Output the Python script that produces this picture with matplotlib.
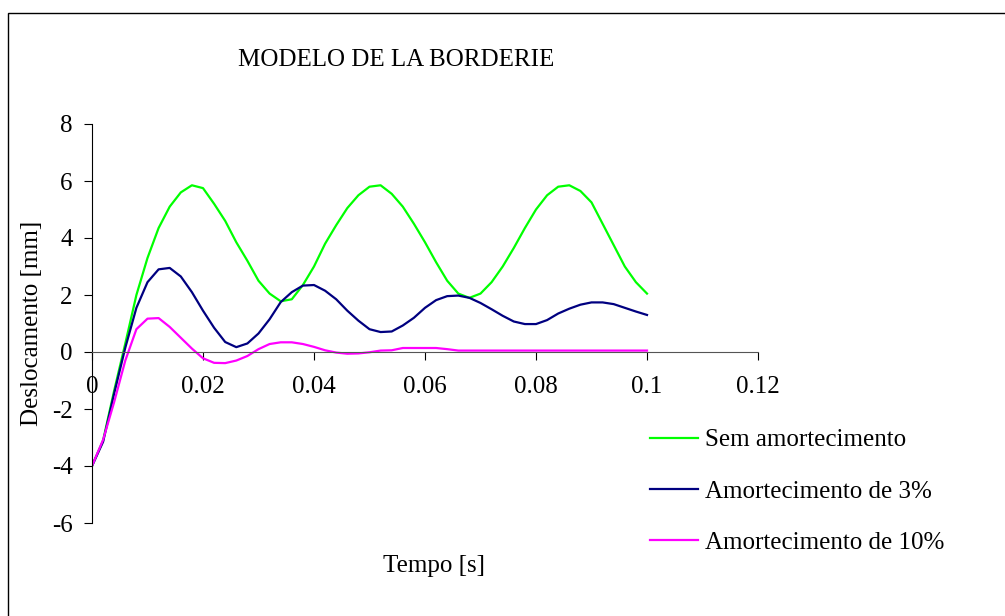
import numpy as np
import matplotlib.pyplot as plt
from matplotlib.patches import Rectangle

# time [s]
tempo = [0.000, 0.002, 0.004, 0.006, 0.008, 0.010, 0.012, 0.014, 0.016, 0.018,
         0.020, 0.022, 0.024, 0.026, 0.028, 0.030, 0.032, 0.034, 0.036, 0.038,
         0.040, 0.042, 0.044, 0.046, 0.048, 0.050, 0.052, 0.054, 0.056, 0.058,
         0.060, 0.062, 0.064, 0.066, 0.068, 0.070, 0.072, 0.074, 0.076, 0.078,
         0.080, 0.082, 0.084, 0.086, 0.088, 0.090, 0.092, 0.094, 0.096, 0.098,
         0.100]

# displacement [mm]
sem_amort = [-4.0, -3.1, -1.35, 0.3, 2.0, 3.3, 4.35, 5.1, 5.6, 5.85,
             5.75, 5.2, 4.6, 3.85, 3.2, 2.5, 2.05, 1.78, 1.85, 2.35,
             3.0, 3.8, 4.45, 5.05, 5.5, 5.8, 5.85, 5.55, 5.1, 4.5,
             3.85, 3.15, 2.5, 2.05, 1.9, 2.05, 2.45, 3.0, 3.65, 4.35,
             5.0, 5.5, 5.8, 5.85, 5.65, 5.25, 4.5, 3.75, 3.0, 2.45,
             2.05]
amort_3 = [-4.0, -3.15, -1.45, 0.15, 1.55, 2.45, 2.9, 2.95, 2.65, 2.1,
           1.45, 0.85, 0.35, 0.17, 0.3, 0.65, 1.15, 1.75, 2.1, 2.33,
           2.35, 2.15, 1.85, 1.45, 1.1, 0.8, 0.7, 0.72, 0.93, 1.2,
           1.55, 1.82, 1.96, 1.98, 1.9, 1.72, 1.5, 1.27, 1.07, 0.98,
           0.98, 1.12, 1.35, 1.52, 1.66, 1.74, 1.74, 1.68, 1.55, 1.42,
           1.3]
amort_10 = [-4.0, -3.08, -1.75, -0.3, 0.8, 1.17, 1.19, 0.88, 0.5, 0.12,
            -0.22, -0.38, -0.39, -0.3, -0.14, 0.1, 0.28, 0.34, 0.34, 0.28,
            0.18, 0.06, -0.02, -0.06, -0.05, -0.01, 0.05, 0.06, 0.14, 0.14,
            0.14, 0.14, 0.1, 0.05, 0.05, 0.05, 0.05, 0.05, 0.05, 0.05,
            0.05, 0.05, 0.05, 0.05, 0.05, 0.05, 0.05, 0.05, 0.05, 0.05,
            0.05]

series = [
    ("Sem amortecimento", sem_amort, "#00ff00"),
    ("Amortecimento de 3%", amort_3, "#000080"),
    ("Amortecimento de 10%", amort_10, "#ff00ff"),
]

x_ticks = [0, 0.02, 0.04, 0.06, 0.08, 0.1, 0.12]
x_labels = ["0", "0.02", "0.04", "0.06", "0.08", "0.1", "0.12"]
y_ticks = [-6, -4, -2, 0, 2, 4, 6, 8]

plt.rcParams['font.family'] = ['Liberation Serif', 'DejaVu Serif']
plt.rcParams['axes.unicode_minus'] = False
W, H = 1005, 616
fs = 18
fig = plt.figure(figsize=(W / 100, H / 100), dpi=100)

# outer chart frame (only top and left edges are inside the picture)
fig.patches.append(Rectangle((8 / W, -0.1), 1.2, 1 - 13 / H + 0.1,
                             transform=fig.transFigure, fill=False,
                             edgecolor="black", linewidth=1.0))

ax = fig.add_axes([92 / W, (H - 523) / H, (758 - 92) / W, (523 - 124) / H])
ax.patch.set_alpha(0)

for name, vals, col in series:
    ax.plot(tempo, vals, color=col, linewidth=1.6, label=name)

ax.set_xlim(0, 0.12)
ax.set_ylim(-6, 8)
ax.spines['top'].set_visible(False)
ax.spines['right'].set_visible(False)
ax.spines['bottom'].set_position(('data', 0))
ax.spines['bottom'].set_color('#555555')
ax.spines['left'].set_color('black')

ax.set_xticks(x_ticks)
ax.set_xticklabels(x_labels)
ax.set_yticks(y_ticks)
ax.tick_params(axis='x', direction='out', length=6, pad=11, labelsize=fs)
ax.tick_params(axis='y', direction='out', length=6, pad=8, labelsize=fs)

fig.text(396 / W, 1 - 60 / H, "MODELO DE LA BORDERIE", ha='center', va='center', fontsize=fs)
fig.text(434 / W, 1 - 566 / H, "Tempo [s]", ha='center', va='center', fontsize=fs)
fig.text(32 / W, 1 - 323 / H, "Deslocamento [mm]", ha='center', va='center',
         rotation=90, fontsize=fs)

fig.legend(loc='upper left', bbox_to_anchor=(650 / W, 1 - 429 / H), frameon=False,
           fontsize=fs, handlelength=1.92, handletextpad=0.28, labelspacing=1.15,
           borderpad=0, borderaxespad=0)

fig.savefig("out.png", dpi=100)
